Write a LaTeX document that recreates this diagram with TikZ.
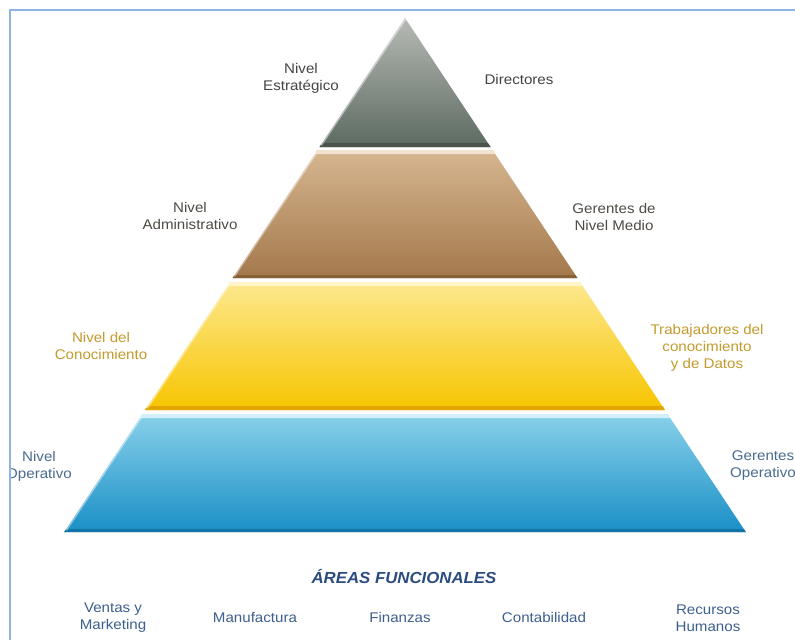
\documentclass[tikz,border=0pt]{standalone}
\usepackage{fontspec}
\setmainfont{Liberation Sans}
\newfontfamily\labfont[FakeStretch=1.08]{Liberation Sans}
\newfontfamily\areafont[FakeStretch=1.05]{Liberation Sans}
\definecolor{bordercol}{HTML}{8FB3E6}
\definecolor{gtop}{HTML}{B6BAB5}
\definecolor{gbot}{HTML}{5C6A60}
\definecolor{gline}{HTML}{4A524C}
\definecolor{btop}{HTML}{D6B690}
\definecolor{bbot}{HTML}{A3784B}
\definecolor{bhi}{HTML}{F2E2CE}
\definecolor{bline}{HTML}{876238}
\definecolor{ytop}{HTML}{FDE88E}
\definecolor{ybot}{HTML}{F7C500}
\definecolor{yhi}{HTML}{FFF5C8}
\definecolor{yline}{HTML}{E3A600}
\definecolor{ltop}{HTML}{88D1EA}
\definecolor{lbot}{HTML}{1A8FC6}
\definecolor{lhi}{HTML}{D2EFFA}
\definecolor{lline}{HTML}{1574A6}
\definecolor{txtgray}{HTML}{444444}
\definecolor{txtadm}{HTML}{4F4A45}
\definecolor{txtgold}{HTML}{C39A2C}
\definecolor{txtblue}{HTML}{4A6B90}
\definecolor{txtarea}{HTML}{2B4C80}
\definecolor{txtbot}{HTML}{3D5F8F}
\begin{document}
\begin{tikzpicture}[x=1pt,y=-1pt,
  lab/.style={align=center,inner sep=0pt,font=\labfont\fontsize{14}{17}\selectfont},
  edgehi/.style={white,opacity=0.45,line width=2.5pt}]
\useasboundingbox (0,0) rectangle (795,640);
\fill[white] (0,0) rectangle (795,640);
% gray layer
\shade[top color=gtop,bottom color=gbot] (405,18) -- (490.5,147) -- (319.5,147) -- cycle;
\fill[gline] (322.2,143) -- (487.8,143) -- (490.5,147) -- (319.5,147) -- cycle;
\draw[edgehi] (405,19) -- (321,145);
% brown layer
\shade[top color=btop,bottom color=bbot] (317.5,150) -- (492.5,150) -- (577.4,278) -- (232.6,278) -- cycle;
\fill[bhi] (317.5,150) -- (492.5,150) -- (495.2,154) -- (314.8,154) -- cycle;
\fill[bline] (234.6,275) -- (575.4,275) -- (577.4,278) -- (232.6,278) -- cycle;
\draw[edgehi] (316,153) -- (234,276);
% yellow layer
\shade[top color=ytop,bottom color=ybot] (230,282) -- (580,282) -- (664.9,410) -- (145.1,410) -- cycle;
\fill[yhi] (230,282) -- (580,282) -- (582.7,286) -- (227.3,286) -- cycle;
\fill[yline] (147.4,406) -- (662.6,406) -- (664.9,410) -- (145.1,410) -- cycle;
\draw[edgehi] (228.5,285) -- (147,408);
% blue layer
\shade[top color=ltop,bottom color=lbot] (142.5,414) -- (667.5,414) -- (745.8,532) -- (64.2,532) -- cycle;
\fill[lhi] (142.5,414) -- (667.5,414) -- (670.2,418) -- (139.8,418) -- cycle;
\fill[lline] (66.2,529) -- (743.8,529) -- (745.8,532) -- (64.2,532) -- cycle;
\draw[edgehi] (141,417) -- (66,530);
% labels
\begin{scope}
\clip (11,11) rectangle (795,640);
\node[lab,text=txtgray] (estr) at (301,78) {Nivel\\Estratégico};
\node[lab,text=txtgray] (dir) at (519,79) {Directores};
\node[lab,text=txtadm] (adm) at (190,216) {Nivel\\Administrativo};
\node[lab,text=txtadm] (ger) at (614,217) {Gerentes de\\Nivel Medio};
\node[lab,text=txtgold] (con) at (101,346) {Nivel del\\Conocimiento};
\node[lab,text=txtgold] (trab) at (707,348) {Trabajadores del\\conocimiento\\y de Datos};
\node[lab,text=txtblue] (opl) at (39,466) {Nivel\\Operativo};
\node[lab,text=txtblue] (opr) at (763,466) {Gerentes\\Operativo};
\node[inner sep=0pt,text=txtarea,font=\areafont\bfseries\itshape\fontsize{16}{19}\selectfont] (areas) at (404,577) {ÁREAS FUNCIONALES};
\node[lab,text=txtbot] (ven) at (113,618) {Ventas y\\Marketing};
\node[lab,text=txtbot] (man) at (255,617) {Manufactura};
\node[lab,text=txtbot] (fin) at (400,617) {Finanzas};
\node[lab,text=txtbot] (cont) at (544,617) {Contabilidad};
\node[lab,text=txtbot] (rec) at (708,618) {Recursos\\Humanos};
\end{scope}
% border
\draw[bordercol,line width=1.6pt] (10,640) -- (10,10) -- (795,10);
\end{tikzpicture}
\end{document}
